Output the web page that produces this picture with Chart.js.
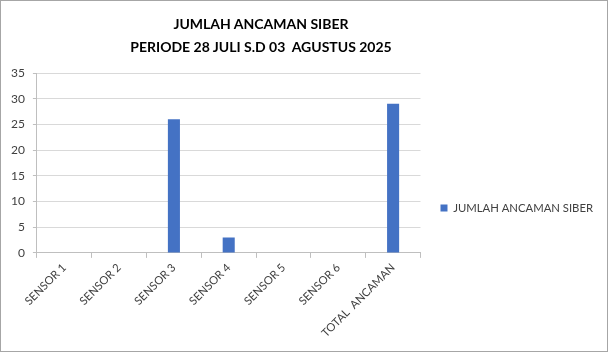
<!DOCTYPE html>
<html>
<head>
<meta charset="utf-8">
<script src="https://cdn.jsdelivr.net/npm/chart.js@4"></script>
<style>
  body { margin: 0; background: #fff; }
  #wrap { position: relative; width: 608px; height: 352px; box-sizing: border-box; border: 1px solid #a6a6a6; background: #fff; }
  #judul { position: absolute; left: 0; width: 520px; top: 11px; text-align: center; font-family: Lato, sans-serif; font-weight: bold; font-size: 14px; line-height: 23px; color: #000; }
  canvas { position: absolute; left: 0; top: 0; }
</style>
</head>
<body>
<div id="wrap">
  <canvas id="ancamanChart" width="606" height="350"></canvas>
  <div id="judul">JUMLAH ANCAMAN SIBER<br>PERIODE 28 JULI S.D 03&nbsp; AGUSTUS 2025</div>
</div>
<script>
// data grafik
const kategori = ['SENSOR 1', 'SENSOR 2', 'SENSOR 3', 'SENSOR 4', 'SENSOR 5', 'SENSOR 6', 'TOTAL  ANCAMAN'];
const jumlahAncaman = [0, 0, 26, 3, 0, 0, 29];
const namaSeri = 'JUMLAH ANCAMAN SIBER';
const sumbuY = { min: 0, max: 35, step: 5 };

function buatGrafik() {
    const ctx = document.getElementById('ancamanChart').getContext('2d');
    new Chart(ctx, {
        type: 'bar',
        data: {
            labels: kategori,
            datasets: [{
                label: namaSeri,
                data: jumlahAncaman,
                backgroundColor: '#4472C4',
                borderColor: '#4472C4',
                borderWidth: 0,
                categoryPercentage: 1,
                barPercentage: 0.22
            }]
        },
        options: {
            responsive: false,
            animation: false,
            layout: { padding: { top: 72, left: 2, right: 4, bottom: 8 } },
            plugins: {
                title: { display: false },
                tooltip: { enabled: false },
                legend: {
                    position: 'right',
                    maxWidth: 240,
                    labels: {
                        boxWidth: 7,
                        boxHeight: 7,
                        padding: 20,
                        color: '#404040',
                        font: { family: 'Lato', size: 11.3 }
                    }
                }
            },
            scales: {
                x: {
                    grid: { drawOnChartArea: false, drawTicks: true, tickLength: 5, color: '#bfbfbf', offset: true },
                    border: { color: '#bfbfbf' },
                    ticks: {
                        minRotation: 45,
                        maxRotation: 45,
                        color: '#404040',
                        font: { family: 'Lato', size: 11.3 }
                    }
                },
                y: {
                    min: sumbuY.min,
                    max: sumbuY.max,
                    grid: { color: '#d9d9d9', tickLength: 4, tickColor: '#bfbfbf' },
                    border: { color: '#bfbfbf' },
                    ticks: {
                        stepSize: sumbuY.step,
                        padding: 8,
                        color: '#404040',
                        font: { family: 'Lato', size: 12 }
                    }
                }
            }
        }
    });
}

document.addEventListener("DOMContentLoaded", function() {
    Promise.all([
        document.fonts.load('11px Lato'),
        document.fonts.load('12px Lato'),
        document.fonts.load('bold 14px Lato')
    ]).then(buatGrafik).catch(buatGrafik);
});
</script>
</body>
</html>
